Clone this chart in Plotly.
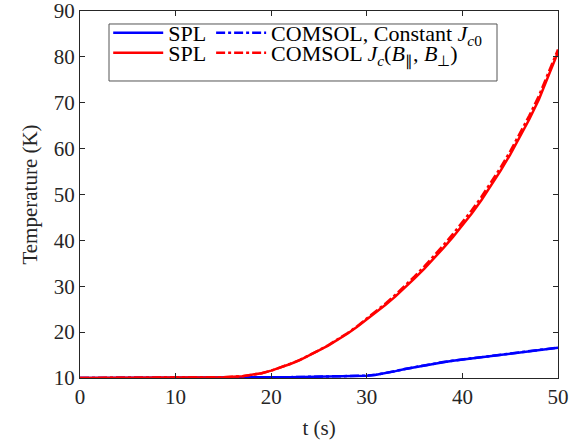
import plotly.graph_objects as go

# time axis (s)
t = [0, 5, 10, 13, 15, 17, 18, 19, 20, 21, 22, 23, 24, 25, 26, 27, 28, 29, 30,
     31, 32, 33, 34, 35, 36, 37, 38, 39, 40, 41, 42, 43, 44, 45, 46, 47, 48, 49, 50]

# blue: SPL (constant Jc0)
blue_spl = [10.0, 10.0, 10.02, 10.04, 10.06, 10.08, 10.1, 10.12, 10.14, 10.16, 10.18, 10.2, 10.22,
            10.25, 10.28, 10.32, 10.37, 10.43, 10.5,
            10.7, 11.05, 11.5, 11.95, 12.35, 12.75, 13.1, 13.45, 13.75, 14.0,
            14.3, 14.6, 14.85, 15.1, 15.35, 15.6, 15.85, 16.1, 16.35, 16.6]
# blue: COMSOL, constant Jc0
blue_com = [10.0, 10.0, 10.02, 10.04, 10.06, 10.08, 10.1, 10.12, 10.14, 10.16, 10.18, 10.2, 10.22,
            10.25, 10.28, 10.32, 10.37, 10.43, 10.5,
            10.72, 11.08, 11.52, 11.97, 12.38, 12.78, 13.14, 13.48, 13.78, 14.03,
            14.33, 14.62, 14.88, 15.13, 15.38, 15.63, 15.88, 16.13, 16.38, 16.62]
# red: SPL (Jc(B))
red_spl = [10.0, 10.0, 10.03, 10.08, 10.15, 10.4, 10.65, 11.05, 11.6, 12.3, 13.05, 13.9, 14.9,
           16.0, 17.1, 18.35, 19.7, 21.15, 22.7,
           24.3, 26.0, 27.8, 29.7, 31.7, 33.8, 36.0, 38.3, 40.7, 43.2,
           45.9, 48.8, 51.9, 55.2, 58.7, 62.4, 66.4, 70.7, 75.7, 81.0]
# red: COMSOL Jc(B_par, B_perp)
red_com = [10.0, 10.0, 10.03, 10.08, 10.15, 10.4, 10.65, 11.05, 11.6, 12.3, 13.1, 13.95, 14.95,
           16.05, 17.2, 18.45, 19.8, 21.3, 22.9,
           24.55, 26.3, 28.15, 30.1, 32.15, 34.3, 36.55, 38.9, 41.35, 43.9,
           46.6, 49.5, 52.6, 55.9, 59.4, 63.2, 67.2, 71.5, 76.4, 81.6]

x_ticks = [0, 10, 20, 30, 40, 50]
y_ticks = [10, 20, 30, 40, 50, 60, 70, 80, 90]

FONT = "Liberation Serif, Times New Roman, serif"
AX = "#262626"
DASH = "9px,3px,3px,3px"

fig = go.Figure()
fig.add_trace(go.Scatter(x=t, y=blue_spl, mode="lines", name="SPL", legend="legend",
                         line=dict(color="#0000ff", width=2.5)))
fig.add_trace(go.Scatter(x=t, y=blue_com, mode="lines", legend="legend",
                         name="COMSOL, Constant <i>J</i><sub><i>c</i>0</sub>",
                         line=dict(color="#0000ff", width=2.5, dash=DASH)))
fig.add_trace(go.Scatter(x=t, y=red_spl, mode="lines", name="SPL", legend="legend2",
                         line=dict(color="#ff0000", width=2.5)))
fig.add_trace(go.Scatter(x=t, y=red_com, mode="lines", legend="legend2",
                         name="COMSOL <i>J<sub>c</sub></i>(<i>B</i><sub>∥</sub>, <i>B</i><sub>⊥</sub>)",
                         line=dict(color="#ff0000", width=2.5, dash=DASH)))

axis_common = dict(showline=True, linecolor=AX, linewidth=1, mirror="ticks",
                   ticks="inside", ticklen=5, tickcolor=AX, showgrid=False, zeroline=False,
                   ticklabeloverflow="allow",
                   tickfont=dict(family=FONT, size=21, color=AX))

fig.update_xaxes(range=[0, 50], tickvals=x_ticks,
                 title=dict(text="t (s)", font=dict(family=FONT, size=21, color=AX), standoff=12),
                 **axis_common)
fig.update_yaxes(range=[10, 90], tickvals=y_ticks,
                 title=dict(text="Temperature (K)", font=dict(family=FONT, size=21, color=AX), standoff=10),
                 **axis_common)

leg_common = dict(orientation="h", xanchor="left", yanchor="middle",
                  bgcolor="rgba(0,0,0,0)", borderwidth=0, itemwidth=50,
                  font=dict(family=FONT, size=22, color="black"))

fig.update_layout(
    width=582, height=443,
    margin=dict(l=80, r=24, t=11, b=65, autoexpand=False),
    paper_bgcolor="white", plot_bgcolor="white",
    font=dict(family=FONT, size=21, color="black"),
    showlegend=True,
    legend=dict(x=0.059, y=0.940, **leg_common),
    legend2=dict(x=0.059, y=0.8855, **leg_common),
    shapes=[dict(type="rect", xref="paper", yref="paper",
                 x0=0.0607, x1=0.8724, y0=0.8093, y1=0.9646,
                 line=dict(color="#555555", width=1), fillcolor="white", layer="above")],
)

fig.write_html("out.html", config={"displayModeBar": False},
               post_script="document.body.style.margin='0';")
